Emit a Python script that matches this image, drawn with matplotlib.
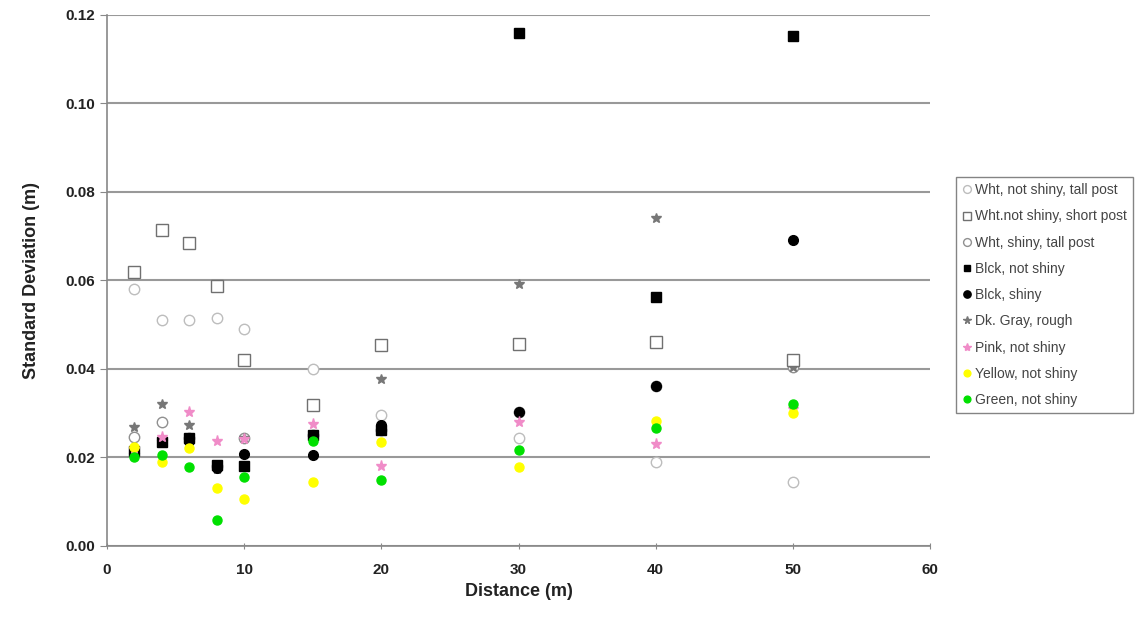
import numpy as np
import matplotlib.pyplot as plt

plt.rcParams["font.family"] = ["Liberation Sans", "DejaVu Sans"]

# distances de mesure (m)
distance = [2, 4, 6, 8, 10, 15, 20, 30, 40, 50]

# ecarts-types (m)
wht_tall = [0.058, 0.051, 0.051, 0.0515, 0.049, 0.040, 0.0296, 0.0245, 0.019, 0.0145]
wht_short = [0.0619, 0.0714, 0.0685, 0.0588, 0.042, 0.0319, 0.0454, 0.0457, 0.0461, 0.042]
wht_shiny = [0.0247, 0.028, 0.0244, 0.018, 0.0245, 0.025, 0.0262, 0.0303, 0.0362, 0.0405]
blk_matte = [0.0215, 0.0235, 0.0244, 0.0183, 0.018, 0.025, 0.0262, 0.116, 0.0563, 0.1153]
blk_shiny = [0.021, 0.024, 0.0237, 0.0177, 0.0208, 0.0206, 0.0273, 0.0303, 0.0362, 0.0692]
gray_rough = [0.0269, 0.0321, 0.0273, 0.0175, 0.0245, 0.032, 0.0377, 0.0592, 0.0741, 0.0405]
pink = [0.022, 0.0247, 0.0303, 0.0237, 0.0242, 0.0276, 0.0181, 0.028, 0.023, 0.031]
yellow = [0.0224, 0.019, 0.0222, 0.0131, 0.0106, 0.0145, 0.0235, 0.0179, 0.0282, 0.030]
green = [0.020, 0.0206, 0.0179, 0.0059, 0.0156, 0.0238, 0.0149, 0.0217, 0.0267, 0.0321]

labels = [
    "Wht, not shiny, tall post",
    "Wht.not shiny, short post",
    "Wht, shiny, tall post",
    "Blck, not shiny",
    "Blck, shiny",
    "Dk. Gray, rough",
    "Pink, not shiny",
    "Yellow, not shiny",
    "Green, not shiny",
]

fig = plt.figure(figsize=(11.44, 6.23), dpi=100)
ax = fig.add_axes([0.0935, 0.1236, 0.7195, 0.8524])

# (valeurs, marqueur, taille, face, bord, ordre)
series = [
    (wht_tall, "o", 7.5, "white", "#bdbdbd", 3),
    (wht_short, "s", 8, "white", "#707070", 3),
    (wht_shiny, "o", 7.5, "white", "#909090", 2),
    (blk_matte, "s", 6.5, "black", "black", 3),
    (blk_shiny, "o", 7, "black", "black", 3),
    (gray_rough, "*", 7.5, "#777777", "#777777", 2.5),
    (pink, "*", 8, "#f08cc8", "#f08cc8", 3),
    (yellow, "o", 6.5, "#ffff00", "#ffff00", 3),
    (green, "o", 6.5, "#00e000", "#00e000", 3),
]

for (vals, mk, ms, fc, ec, z), lab in zip(series, labels):
    ax.plot(distance, vals, linestyle="none", marker=mk, markersize=ms,
            markerfacecolor=fc, markeredgecolor=ec, markeredgewidth=1.0,
            label=lab, zorder=z)

ax.set_xlim(0, 60)
ax.set_ylim(0, 0.12)
ax.set_xticks(np.arange(0, 61, 10))
ax.set_yticks(np.arange(0, 0.121, 0.02))
ax.set_yticklabels([f"{v:.2f}" for v in np.arange(0, 0.121, 0.02)])
ax.yaxis.grid(True, color="#999999", linewidth=1.5)
ax.set_axisbelow(True)
for side in ["top", "right"]:
    ax.spines[side].set_visible(False)
for side in ["left", "bottom"]:
    ax.spines[side].set_color("#888888")
    ax.spines[side].set_linewidth(1.2)
ax.tick_params(axis="both", colors="#888888", labelcolor="#222222",
               labelsize=11, length=5)
ax.tick_params(axis="x", direction="inout", pad=10)
for t in ax.get_xticklabels() + ax.get_yticklabels():
    t.set_fontweight("bold")

ax.set_xlabel("Distance (m)", fontsize=13, fontweight="bold", color="#222222")
ax.set_ylabel("Standard Deviation (m)", fontsize=13, fontweight="bold",
              color="#222222", labelpad=18)

leg = fig.legend(loc="upper left", bbox_to_anchor=(0.836, 0.716),
                 fontsize=10, frameon=True, fancybox=False, labelspacing=0.88,
                 handletextpad=0.2, borderpad=0.45, borderaxespad=0,
                 handlelength=0.7, markerscale=0.75)
leg.get_frame().set_edgecolor("#666666")
leg.get_frame().set_linewidth(1.0)
for t in leg.get_texts():
    t.set_color("#444444")

fig.savefig("out.png", dpi=100)
